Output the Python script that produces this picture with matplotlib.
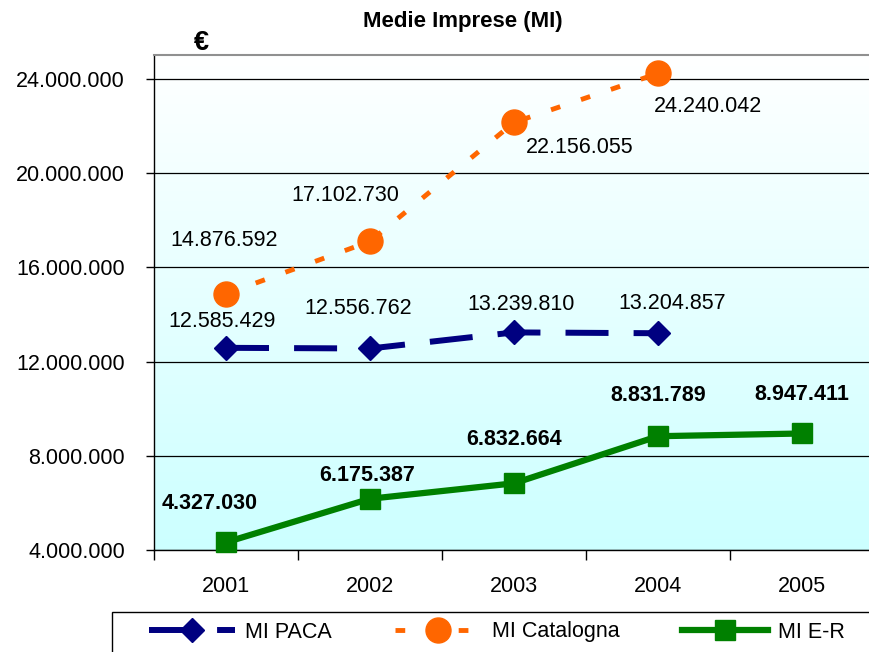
import numpy as np
import matplotlib
matplotlib.use("Agg")
import matplotlib.pyplot as plt
from matplotlib import font_manager
from matplotlib.patches import Rectangle
from matplotlib.ticker import FuncFormatter
from matplotlib.colors import LinearSegmentedColormap

years = ["2001", "2002", "2003", "2004", "2005"]
paca = [12585429, 12556762, 13239810, 13204857]
catalogna = [14876592, 17102730, 22156055, 24240042]
emilia = [4327030, 6175387, 6832664, 8831789, 8947411]
series_names = ["MI PACA", "MI Catalogna", "MI E-R"]
title = "Medie Imprese (MI)"

# label offsets in pixels (dx, dy up)
paca_off = [(-4, 26), (-12, 40), (7, 28), (14, 30)]
cat_off = [(-2, 53), (-25, 46), (66, -25), (50, -33)]
er_off = [(-16, 39), (-3, 23), (0, 44), (0, 41), (0, 39)]

names = {f.name for f in font_manager.fontManager.ttflist}
if "Liberation Sans Narrow" in names:
    fam = ["Liberation Sans Narrow", "DejaVu Sans"]
    fs = 18
else:
    fam = ["Liberation Sans", "DejaVu Sans"]
    fs = 15.5
plt.rcParams["font.family"] = fam


def fmt(v, pos=None):
    return "{:,.0f}".format(v).replace(",", ".")


fig = plt.figure(figsize=(8.7, 6.52), dpi=100)
ax = fig.add_axes([154 / 870, 1 - 550 / 652, (874 - 154) / 870, (550 - 55) / 652])

# background gradient, light cyan at the bottom to white at the top
grad = np.linspace(0, 1, 256).reshape(-1, 1)
cmap = LinearSegmentedColormap.from_list("bg", ["#CCFFFF", "#FFFFFF"])
ax.imshow(grad, aspect="auto", cmap=cmap, origin="lower",
          extent=[0, 1, 0, 1], transform=ax.transAxes, zorder=0)

x = np.arange(len(years))
ax.set_xlim(-0.5, 4.5)
ax.set_ylim(4e6, 25.02e6)
ax.set_yticks(np.arange(4e6, 24.1e6, 4e6))
ax.yaxis.set_major_formatter(FuncFormatter(fmt))
ax.grid(axis="y", color="black", lw=0.9, zorder=1)
ax.set_axisbelow(False)

l1, = ax.plot(x[:len(paca)], paca, color="#000080", lw=4.3, dashes=(7.2, 4.2),
              marker="D", ms=12, zorder=3, label=series_names[0], clip_on=False)
l2, = ax.plot(x[:len(catalogna)], catalogna, color="#FF6600", lw=3.5, dashes=(2, 4.5),
              marker="o", ms=18, zorder=3, label=series_names[1], clip_on=False)
l3, = ax.plot(x, emilia, color="#008000", lw=4.5, marker="s", ms=15,
              zorder=3, label=series_names[2], clip_on=False)

for vals, offs, w in [(paca, paca_off, "normal"), (catalogna, cat_off, "normal"),
                      (emilia, er_off, "bold")]:
    for i, (v, o) in enumerate(zip(vals, offs)):
        ax.annotate(fmt(v), (x[i], v), xytext=o, textcoords="offset pixels",
                    ha="center", va="center", fontsize=fs, fontweight=w, zorder=4)

ax.set_xticks(x)
ax.set_xticklabels(years)
ax.set_xticks(np.arange(-0.5, 4.6, 1), minor=True)
ax.tick_params(axis="x", which="major", length=0, pad=19, labelsize=fs)
ax.tick_params(axis="x", which="minor", length=7, width=1, direction="out")
ax.tick_params(axis="y", length=6, width=1, direction="out", pad=15, labelsize=fs)

ax.spines["right"].set_visible(False)
ax.spines["top"].set_color("#909090")
ax.spines["top"].set_linewidth(1.5)
for s in ["left", "bottom"]:
    ax.spines[s].set_color("black")
    ax.spines[s].set_linewidth(1)

fig.text(463 / 870, 1 - 22 / 652, title, ha="center", va="center",
         fontsize=fs + 0.5, fontweight="bold")
fig.text(201 / 870, 1 - 43 / 652, "€", ha="center", va="center",
         fontsize=fs + 4, fontweight="bold")

# legend box
fig.patches.append(Rectangle((112 / 870, -0.05), 0.9, 1 - 612 / 652 + 0.05,
                             transform=fig.transFigure, fill=False,
                             edgecolor="black", lw=1))
fig.legend(handles=[l1, l2, l3], loc="center left", ncol=3, frameon=False,
           bbox_to_anchor=(140 / 870, 1 - 632 / 652), fontsize=fs,
           handlelength=4, handletextpad=0.5, columnspacing=2.9, numpoints=1,
           borderaxespad=0)

fig.savefig("out.png", dpi=100)
